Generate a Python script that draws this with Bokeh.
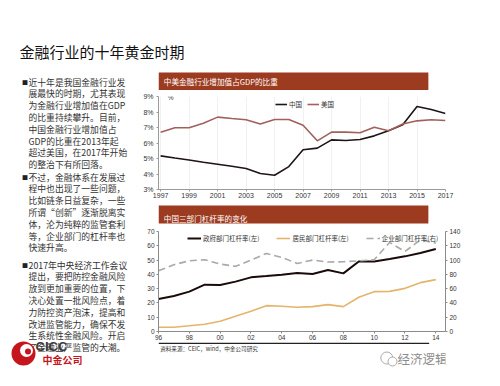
from bokeh.plotting import figure
from bokeh.models import Range1d, LinearAxis, FixedTicker, Legend, LegendItem
from bokeh.layouts import column, row
from bokeh.embed import file_html
from bokeh.resources import INLINE
from bokeh.core.properties import value

CJK = "Noto Sans CJK SC"
LAT = "Liberation Sans"
BAR = "#9C3B20"

# ---------------- data ----------------
title_text = "金融行业的十年黄金时期"
chart1_title = "中美金融行业增加值占GDP的比重"
chart2_title = "中国三部门杠杆率的变化"
source_text = "资料来源：CEIC，wind，中金公司研究"

years1 = list(range(1997, 2018))
china = [5.17, 5.03, 4.90, 4.76, 4.63, 4.50, 4.35, 4.03, 3.92, 4.48, 5.56,
         5.67, 6.20, 6.16, 6.23, 6.46, 6.79, 7.17, 8.35, 8.16, 7.90]
usa = [6.70, 6.98, 6.98, 7.28, 7.67, 7.58, 7.50, 7.22, 7.52, 7.52, 7.15,
       6.14, 6.70, 6.70, 6.66, 7.02, 6.79, 7.22, 7.43, 7.50, 7.45]
series1 = ["中国", "美国"]

years2 = list(range(1996, 2015))
gov = [22.8, 24.9, 27.9, 32.8, 32.6, 34.9, 37.9, 38.8, 39.8, 40.9, 40.2,
       43.0, 40.7, 49.0, 49.0, 50.7, 52.6, 54.9, 57.7]
house = [3.0, 3.0, 4.0, 5.1, 7.2, 10.7, 14.2, 18.1, 17.7, 17.0, 17.4,
         18.8, 17.4, 24.0, 27.9, 28.1, 30.2, 34.2, 36.3]
corp = [85.0, 93.5, 99.0, 100.5, 94.4, 91.2, 100.0, 109.3, 103.7, 95.3, 100.0,
        97.2, 97.7, 99.0, 100.5, 124.7, 112.0, 128.4, 123.7]
series2 = ["政府部门杠杆率(左)", "居民部门杠杆率(左)", "企业部门杠杆率(右)"]

x1_ticks = list(range(1997, 2018, 2))
y1_ticks = [3, 4, 5, 6, 7, 8, 9]
x2_ticks = list(range(1996, 2015, 2))
x2_labels = ["96", "98", "00", "02", "04", "06", "08", "10", "12", "14"]
yl_ticks = [0, 10, 20, 30, 40, 50, 60, 70]
yr_ticks = [0, 20, 40, 60, 80, 100, 120, 140]

bullets = [
    ["近十年是我国金融行业发", "展最快的时期，尤其表现", "为金融行业增加值在GDP",
     "的比重持续攀升。目前，", "中国金融行业增加值占", "GDP的比重在2013年起",
     "超过美国，在2017年开始", "的整治下有所回落。"],
    ["不过，金融体系在发展过", "程中也出现了一些问题，", "比如链条日益复杂，一些",
     "所谓“创新”逐渐脱离实", "体，沦为纯粹的监管套利", "等，企业部门的杠杆率也",
     "快速升高。"],
    ["2017年中央经济工作会议", "提出，要把防控金融风险", "放到更加重要的位置，下",
     "决心处置一批风险点，着", "力防控资产泡沫，提高和", "改进监管能力，确保不发",
     "生系统性金融风险。开启", "了金融业严监管的大潮。"],
]


def canvas(w, h):
    p = figure(width=w, height=h, x_range=Range1d(0, w), y_range=Range1d(h, 0),
               output_backend="svg", toolbar_location=None, min_border=0,
               x_axis_type=None, y_axis_type=None, outline_line_color=None)
    p.background_fill_color = "white"
    p.border_fill_color = "white"
    return p


def txt(p, x, y, s, size, color="#222222", font=CJK, align="left",
        baseline="middle", style="normal"):
    p.text(x=[x], y=[y], text=[s], text_font=value(font),
           text_font_size=value(f"{size}px"), text_color=color,
           text_align=align, text_baseline=baseline, text_font_style=style)


# ---------------- title ----------------
top = canvas(484, 71)
txt(top, 19, 50.5, title_text, 15, "#111111")

# ---------------- left text column ----------------
left = canvas(132, 299)
starts = [10.5, 105.5, 193.5]
step = 11.8
for blk, y0 in zip(bullets, starts):
    txt(left, 21.5, y0, "■", 6, "#222222")
    for i, line in enumerate(blk):
        txt(left, 28, y0 + i * step, line, 8.8, "#333333")

# CICC logo
left.scatter(x=[23], y=[282], size=24, marker="circle", fill_color="#C4161C", line_color=None)
left.scatter(x=[26], y=[279], size=13, marker="circle", fill_color="white", line_color=None)
left.scatter(x=[27.5], y=[280], size=6, marker="circle", fill_color="#C4161C", line_color=None)
txt(left, 35, 275, "CICC", 13, "#3a3a3a", font=LAT, style="bold")
txt(left, 42, 288, "中金公司", 10, "#C4161C", style="bold")

# ---------------- chart 1 ----------------
bar1 = canvas(352, 20)
bar1.quad(left=[0], right=[331], top=[1], bottom=[18.5], fill_color=BAR, line_color=None)
txt(bar1, 6.5, 10, chart1_title, 7.6, "white")

c1 = figure(width=352, height=113, x_range=Range1d(1996.85, 2017.0), y_range=Range1d(3, 9),
            output_backend="svg", toolbar_location=None,
            min_border_left=23, min_border_right=35, min_border_top=5, min_border_bottom=15,
            outline_line_color=None)
c1.background_fill_color = "white"
c1.border_fill_color = "white"
c1.xaxis.ticker = FixedTicker(ticks=x1_ticks)
c1.xaxis.major_label_overrides = {t: str(t) for t in x1_ticks}
c1.yaxis.ticker = FixedTicker(ticks=y1_ticks)
c1.yaxis.major_label_overrides = {t: f"{t}%" for t in y1_ticks}
for ax in (c1.xaxis, c1.yaxis):
    ax.axis_line_color = "#9a9a9a"
    ax.major_tick_line_color = "#9a9a9a"
    ax.minor_tick_line_color = None
    ax.major_tick_in = 0
    ax.major_tick_out = 2
    ax.major_label_text_font = LAT
    ax.major_label_text_font_size = "7px"
    ax.major_label_text_color = "#333333"
c1.xaxis.major_label_standoff = 1
c1.yaxis.major_label_standoff = 3
c1.ygrid.visible = False
c1.xgrid.grid_line_color = "#f1f1f1"
c1.xgrid.ticker = FixedTicker(ticks=x1_ticks)

r_cn = c1.line(years1, china, line_color="#1E1414", line_width=1.6)
r_us = c1.line(years1, usa, line_color="#A2605C", line_width=1.6)
c1.text(x=[1997.5], y=[8.93], text=["%"], text_font=value(LAT), text_font_size=value("6.5px"),
        text_color="#333333", text_baseline="middle")
lg1 = Legend(items=[LegendItem(label=series1[0], renderers=[r_cn]),
                    LegendItem(label=series1[1], renderers=[r_us])],
             orientation="horizontal", location=(117, 80), padding=0, margin=0,
             glyph_width=12, glyph_height=8, label_height=8, label_width=0,
             label_standoff=2, spacing=5, border_line_color=None,
             background_fill_alpha=0, label_text_font=CJK,
             label_text_font_size="6.5px", label_text_color="#333333")
c1.add_layout(lg1)

# ---------------- chart 2 ----------------
bar2 = canvas(352, 20)
bar2.quad(left=[0], right=[331], top=[1], bottom=[19], fill_color=BAR, line_color=None)
txt(bar2, 6.5, 14, chart2_title, 7.6, "white")

c2 = figure(width=352, height=118, x_range=Range1d(1996, 2014.63), y_range=Range1d(0, 70),
            output_backend="svg", toolbar_location=None,
            min_border_left=26, min_border_right=39, min_border_top=7, min_border_bottom=11,
            outline_line_color=None)
c2.background_fill_color = "white"
c2.border_fill_color = "white"
c2.extra_y_ranges = {"right": Range1d(0, 140)}
c2.add_layout(LinearAxis(y_range_name="right"), "right")
c2.xaxis.ticker = FixedTicker(ticks=x2_ticks)
c2.xaxis.major_label_overrides = dict(zip(x2_ticks, x2_labels))
c2.yaxis[0].ticker = FixedTicker(ticks=yl_ticks)
c2.yaxis[1].ticker = FixedTicker(ticks=yr_ticks)
for ax in list(c2.xaxis) + list(c2.yaxis):
    ax.axis_line_color = "#8a8a8a"
    ax.major_tick_line_color = "#8a8a8a"
    ax.minor_tick_line_color = None
    ax.major_tick_in = 0
    ax.major_tick_out = 2
    ax.major_label_text_font = LAT
    ax.major_label_text_font_size = "6.5px"
    ax.major_label_text_color = "#333333"
    ax.major_label_standoff = 2
c2.xaxis.major_label_standoff = 1
c2.grid.visible = False

r_gov = c2.line(years2, gov, line_color="#1A0A0A", line_width=2)
r_house = c2.line(years2, house, line_color="#E4B46C", line_width=1.6)
r_corp = c2.line(years2, corp, y_range_name="right", line_color="#A9A9A9",
                 line_width=1.6, line_dash="7 4")
lg2 = Legend(items=[LegendItem(label=series2[0], renderers=[r_gov]),
                    LegendItem(label=series2[1], renderers=[r_house]),
                    LegendItem(label=series2[2], renderers=[r_corp])],
             orientation="horizontal", location=(29, 88), padding=0, margin=0,
             glyph_width=14, glyph_height=8, label_height=8, label_width=0,
             label_standoff=2, spacing=17, border_line_color=None,
             background_fill_alpha=0, label_text_font=CJK,
             label_text_font_size="6.5px", label_text_color="#333333")
c2.add_layout(lg2)

# ---------------- source + watermark ----------------
src = canvas(352, 28)
src.line(x=[0, 332], y=[0.8, 0.8], line_color="#222222", line_width=1.6)
txt(src, 2, 6, source_text, 5.6, "#333333")
src.scatter(x=[280], y=[15.5], size=12, marker="circle", fill_color=None,
            line_color="#aaaaaa", line_width=1)
src.scatter(x=[287], y=[19], size=9, marker="circle", fill_color="white",
            line_color="#aaaaaa", line_width=1)
txt(src, 293, 16, "经济逻辑", 12.5, "#8c8c8c")

right = column(bar1, c1, bar2, c2, src, spacing=0)
body = row(left, right, spacing=0)
page = column(top, body, spacing=0)

open("out.html", "w").write(file_html(page, INLINE))
